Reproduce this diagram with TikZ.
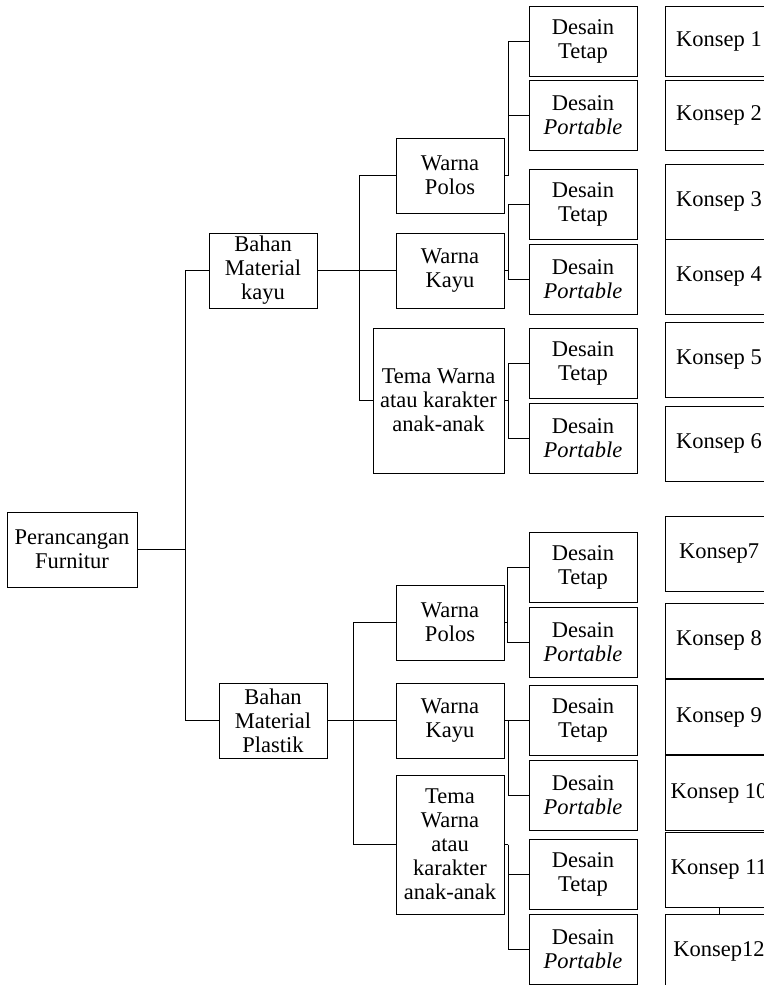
\documentclass[tikz,border=0pt]{standalone}
\usepackage{fontspec}
\setmainfont{Liberation Serif}
\usepackage{tikz}
\usetikzlibrary{positioning}
\tikzstyle{box} = [rectangle, draw=black, line width=0.8pt, minimum width=108pt, minimum height=75pt, inner sep=0pt, align=center, font=\fontsize{22.5}{24}\selectfont]
\tikzstyle{desain} = [box, minimum height=70pt]
\tikzstyle{konsep} = [box]
\tikzstyle{line} = [line width=0.8pt]

\begin{document}
\begin{tikzpicture}[x=1pt, y=-1pt, node distance=75pt]
    \useasboundingbox (0,0) rectangle (763,985);
    % tree nodes
    \node (root) [box, minimum width=130pt] at (72,549.5) {Perancangan\\Furnitur};
    \node (kayu) [box] at (263,270.5) {Bahan\\Material\\kayu};
    \node (plastik) [box] at (273,720.5) {Bahan\\Material\\Plastik};
    \node (polos1) [box] at (450,175.5) {Warna\\Polos};
    \node (wkayu1) [box] at (450,270.5) {Warna\\Kayu};
    \node (tema1) [box, minimum width=131pt, minimum height=145pt] at (438.5,400.5) {Tema Warna\\atau karakter\\anak-anak};
    \node (polos2) [box] at (450,622.5) {Warna\\Polos};
    \node (wkayu2) [box] at (450,720.5) {Warna\\Kayu};
    \node (tema2) [box, minimum height=139pt] at (450,844.5) {Tema\\Warna\\atau\\karakter\\anak-anak};
    % desain
    \node (desT1) [desain] at (583,41) {Desain\\Tetap};
    \node (desP1) [desain, below of=desT1, node distance=74pt] {Desain\\\textit{Portable}};
    \node (desT2) [desain] at (583,204.5) {Desain\\Tetap};
    \node (desP2) [desain, below of=desT2] {Desain\\\textit{Portable}};
    \node (desT3) [desain] at (583,363) {Desain\\Tetap};
    \node (desP3) [desain, below of=desT3] {Desain\\\textit{Portable}};
    \node (desT4) [desain] at (583,567) {Desain\\Tetap};
    \node (desP4) [desain, below of=desT4] {Desain\\\textit{Portable}};
    \node (desT5) [desain] at (583,720.5) {Desain\\Tetap};
    \node (desP5) [desain, below of=desT5] {Desain\\\textit{Portable}};
    \node (desT6) [desain] at (583,874) {Desain\\Tetap};
    \node (desP6) [desain, below of=desT6] {Desain\\\textit{Portable}};
    % konsep
    \node (k1) [konsep, minimum height=70pt] at (719,41) {Konsep 1};
    \node (k2) [konsep, minimum height=70pt] at (719,115) {Konsep 2};
    \node (k3) [konsep] at (719,201.5) {Konsep 3};
    \node (k4) [konsep] at (719,276.5) {Konsep 4};
    \node (k5) [konsep] at (719,360) {Konsep 5};
    \node (k6) [konsep] at (719,443.5) {Konsep 6};
    \node (k7) [konsep] at (719,553.5) {Konsep7};
    \node (k8) [konsep] at (719,640.5) {Konsep 8};
    \node (k9) [konsep] at (719,717) {Konsep 9};
    \node (k10) [konsep] at (719,793) {Konsep 10};
    \node (k11) [konsep] at (719,869.5) {Konsep 11};
    \node (k12) [konsep] at (719,951.5) {Konsep12};
    % junctions
    \coordinate (j0) at (185,549.5);
    \coordinate (j1) at (359,270.5);
    \coordinate (j2) at (508,175.5);
    \coordinate (j3) at (508,270.5);
    \coordinate (j4) at (508,400.5);
    \coordinate (j5) at (353,720.5);
    \coordinate (j6) at (507,622.5);
    \coordinate (j7) at (508,720.5);
    \coordinate (j8) at (508,844.5);
    % connectors
    \draw [line] (root) -- (j0);
    \draw [line] (j0) |- (kayu);
    \draw [line] (j0) |- (plastik);
    \draw [line] (kayu) -- (wkayu1);
    \draw [line] (j1) |- (polos1);
    \draw [line] (j1) |- (tema1);
    \draw [line] (polos1) -- (j2);
    \draw [line] (j2) |- (desT1);
    \draw [line] (j2) |- (desP1);
    \draw [line] (wkayu1) -- (j3);
    \draw [line] (j3) |- (desT2);
    \draw [line] (j3) |- (desP2);
    \draw [line] (tema1) -- (j4);
    \draw [line] (j4) |- (desT3);
    \draw [line] (j4) |- (desP3);
    \draw [line] (plastik) -- (wkayu2);
    \draw [line] (j5) |- (polos2);
    \draw [line] (j5) |- (tema2);
    \draw [line] (polos2) -- (j6);
    \draw [line] (j6) |- (desT4);
    \draw [line] (j6) |- (desP4);
    \draw [line] (wkayu2) -- (desT5);
    \draw [line] (j7) |- (desP5);
    \draw [line] (tema2) -- (j8);
    \draw [line] (j8) |- (desT6);
    \draw [line] (j8) |- (desP6);
    \draw [line] (k11) -- (k12);
\end{tikzpicture}
\end{document}
